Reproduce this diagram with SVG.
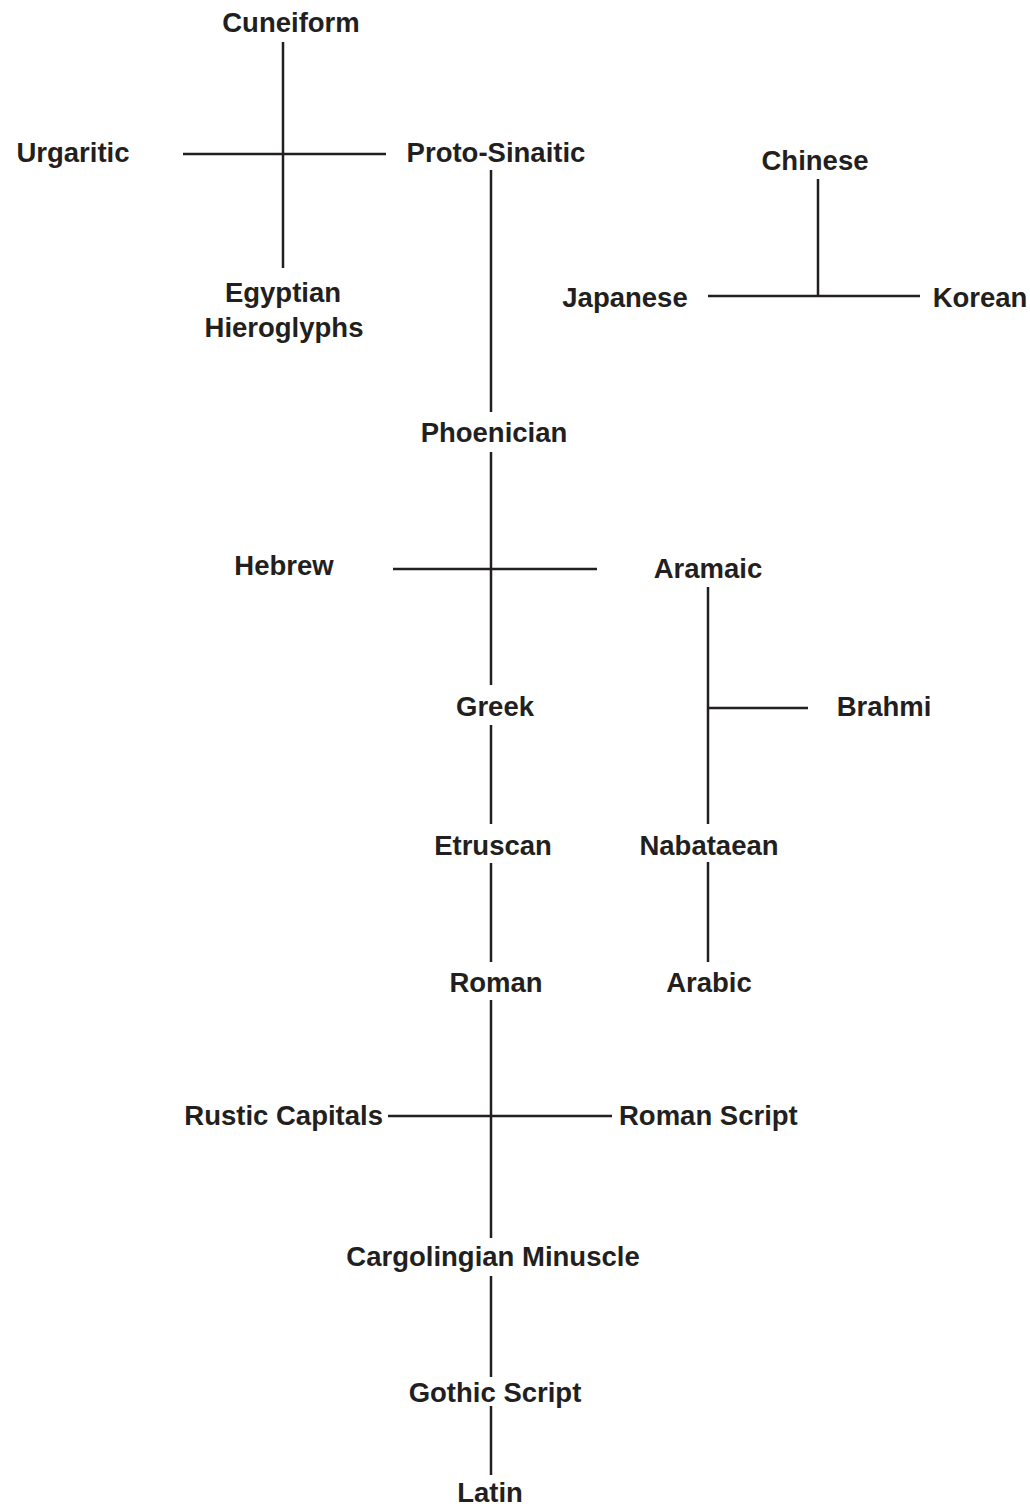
<svg xmlns="http://www.w3.org/2000/svg" width="1030" height="1507" viewBox="0 0 1030 1507">
<style>
text{font-family:"Liberation Sans",Arial,sans-serif;font-weight:bold;font-size:27.5px;fill:#231f20;text-anchor:middle}
.e{text-anchor:end}.s{text-anchor:start}
line{stroke:#231f20;stroke-width:2.5;fill:none}
</style>
<rect width="1030" height="1507" fill="#fff"/>
<g id="connectors">
<line x1="283" y1="42" x2="283" y2="268"/>
<line x1="183" y1="154" x2="386" y2="154"/>
<line x1="491" y1="170" x2="491" y2="412"/>
<line x1="818" y1="179" x2="818" y2="296"/>
<line x1="708" y1="296" x2="920" y2="296"/>
<line x1="491" y1="452" x2="491" y2="685"/>
<line x1="393" y1="569" x2="597" y2="569"/>
<line x1="708" y1="587" x2="708" y2="824"/>
<line x1="708" y1="708" x2="808" y2="708"/>
<line x1="491" y1="725" x2="491" y2="824"/>
<line x1="491" y1="863" x2="491" y2="962"/>
<line x1="708" y1="862" x2="708" y2="962"/>
<line x1="491" y1="1000" x2="491" y2="1238"/>
<line x1="388" y1="1116" x2="612" y2="1116"/>
<line x1="491" y1="1276" x2="491" y2="1377"/>
<line x1="491" y1="1406" x2="491" y2="1475"/>
</g>
<g id="cuneiform"><text x="291" y="32">Cuneiform</text></g>
<g id="urgaritic"><text x="73" y="162">Urgaritic</text></g>
<g id="proto-sinaitic"><text x="496" y="162">Proto-Sinaitic</text></g>
<g id="egyptian"><text x="283" y="302">Egyptian</text><text x="284" y="337">Hieroglyphs</text></g>
<g id="chinese"><text x="815" y="170">Chinese</text></g>
<g id="japanese"><text x="625" y="307">Japanese</text></g>
<g id="korean"><text x="980" y="307">Korean</text></g>
<g id="phoenician"><text x="494" y="442">Phoenician</text></g>
<g id="hebrew"><text x="284" y="575">Hebrew</text></g>
<g id="aramaic"><text x="708" y="578">Aramaic</text></g>
<g id="brahmi"><text x="884" y="716">Brahmi</text></g>
<g id="greek"><text x="495" y="716">Greek</text></g>
<g id="etruscan"><text x="493" y="855">Etruscan</text></g>
<g id="nabataean"><text x="709" y="855">Nabataean</text></g>
<g id="roman"><text x="496" y="992">Roman</text></g>
<g id="arabic"><text x="709" y="992">Arabic</text></g>
<g id="rustic-capitals"><text class="e" x="383" y="1125">Rustic Capitals</text></g>
<g id="roman-script"><text class="s" x="619" y="1125">Roman Script</text></g>
<g id="cargolingian"><text x="493" y="1266">Cargolingian Minuscle</text></g>
<g id="gothic"><text x="495" y="1402">Gothic Script</text></g>
<g id="latin"><text x="490" y="1502">Latin</text></g>
</svg>
